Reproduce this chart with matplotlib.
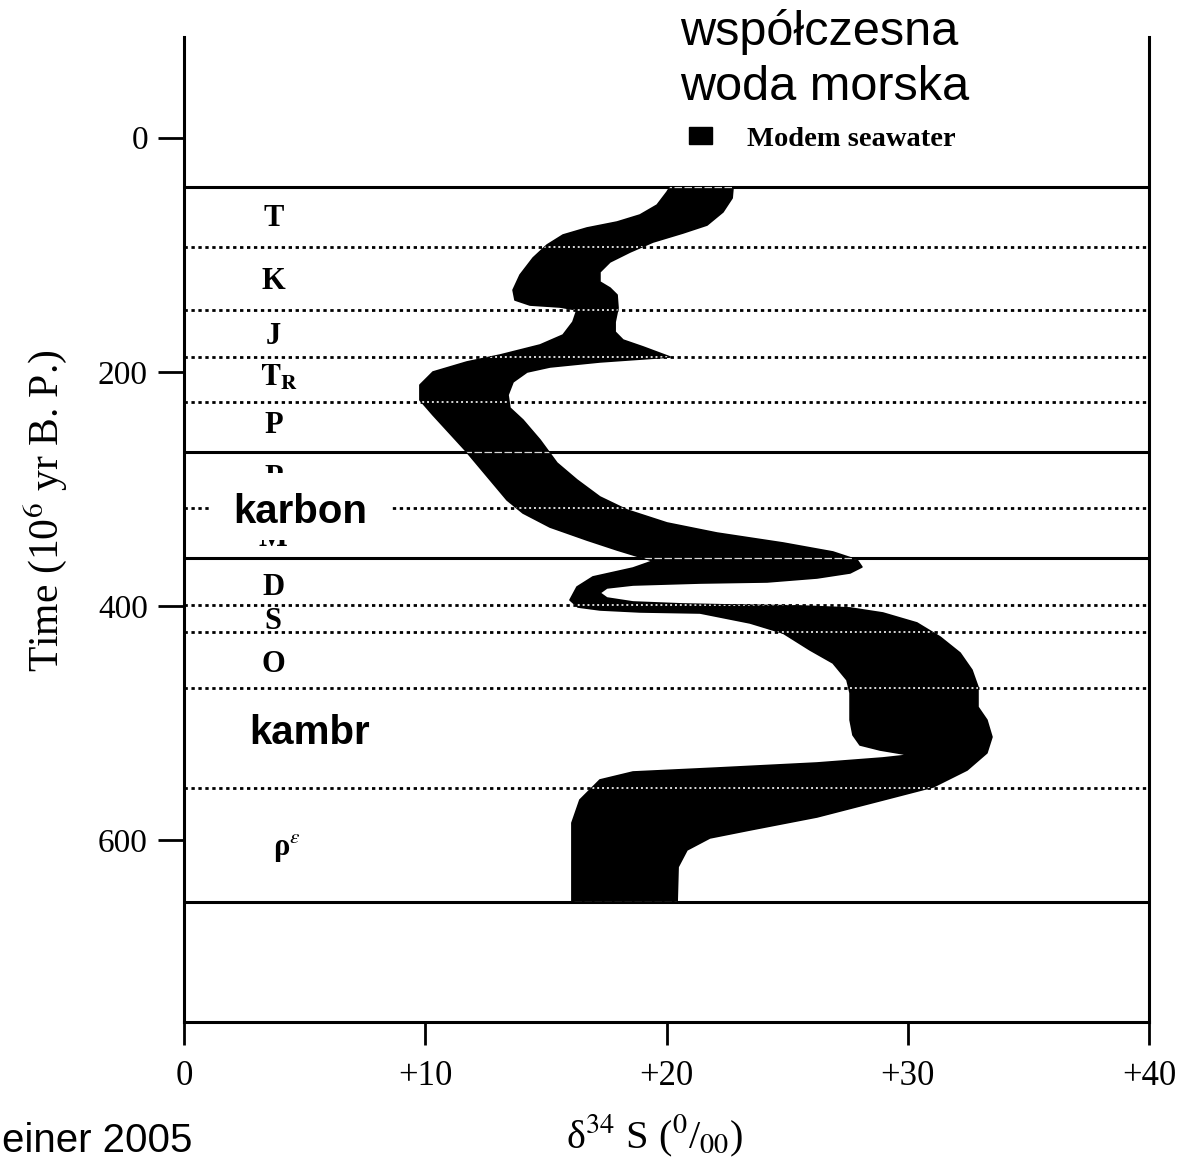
import matplotlib
matplotlib.use("Agg")
import matplotlib.pyplot as plt
from matplotlib.patches import Patch, Polygon, Rectangle

# ---------------- data ----------------
# right-hand outline of the seawater band (delta34S permil, age Myr), top -> bottom
band_right_x = [22.76, 22.72, 22.34, 21.68, 20.68, 19.44, 18.49, 17.66, 17.24, 17.24,
                17.66, 17.95, 17.99, 17.87, 17.87, 18.20, 19.03, 20.15, 17.24, 15.17,
                14.22, 13.64, 13.43, 13.51, 14.05, 14.76, 15.46, 16.29, 17.24, 18.36,
                20.02, 22.09, 24.83, 26.90, 27.90, 28.10, 27.61, 26.24, 24.17, 21.39,
                18.61, 17.53, 17.24, 17.53, 18.61, 20.68, 22.76, 25.53, 27.61, 28.97,
                30.38, 31.34, 32.17, 32.66, 32.91, 32.91, 33.28, 33.49, 33.28, 32.46,
                31.05, 28.97, 26.24, 23.46, 21.80, 20.85, 20.48, 20.44]
band_right_age = [42.0, 51.5, 63.4, 74.6, 81.4, 89.1, 97.6, 106.1, 114.7, 123.2,
                  128.4, 134.3, 145.4, 157.4, 165.9, 172.8, 178.7, 187.3, 191.5, 195.8,
                  200.1, 208.6, 219.7, 230.8, 241.1, 258.2, 277.8, 292.3, 306.8, 317.9,
                  329.0, 337.6, 346.1, 353.8, 360.6, 366.6, 371.7, 376.0, 379.4, 380.3,
                  382.0, 384.5, 388.8, 393.1, 396.5, 398.2, 399.1, 399.9, 401.6, 405.9,
                  414.4, 426.4, 440.1, 454.6, 469.1, 486.2, 497.3, 511.8, 525.4, 540.0,
                  554.5, 565.6, 580.1, 591.2, 598.0, 608.3, 622.8, 652.5]
# left-hand outline, bottom -> top
band_left_x = [16.08, 16.08, 16.41, 17.24, 18.61, 22.09, 26.24, 28.97, 30.09, 28.85,
               28.02, 27.73, 27.61, 27.61, 27.48, 26.90, 25.95, 24.83, 23.46, 21.39,
               18.90, 17.24, 16.33, 16.00, 16.29, 16.95, 18.61, 19.44, 18.90, 17.95,
               16.70, 15.17, 14.05, 13.39, 11.65, 10.32, 9.78, 9.78, 10.32, 11.73,
               13.10, 14.76, 15.71, 16.12, 16.29, 15.59, 14.34, 13.72, 13.64, 13.93,
               14.47, 15.05, 15.71, 16.70, 17.95, 18.90, 19.61, 20.02, 20.15]
band_left_age = [652.5, 585.2, 565.6, 548.5, 541.7, 538.3, 534.0, 529.7, 527.2, 522.9,
                 518.6, 510.1, 497.3, 474.2, 463.1, 448.6, 437.5, 423.0, 414.4, 405.9,
                 405.0, 403.3, 400.8, 394.8, 383.7, 375.1, 367.5, 361.5, 358.1, 352.1,
                 343.6, 332.5, 320.5, 309.4, 266.7, 236.8, 224.0, 211.2, 200.1, 191.5,
                 185.6, 177.0, 168.5, 157.4, 147.1, 144.6, 142.9, 138.6, 130.1, 117.2,
                 102.7, 91.6, 83.1, 77.1, 72.0, 66.0, 57.5, 46.4, 42.0]

boundary_ages = [42, 93, 147, 187, 226, 268, 316, 359, 399, 422, 470, 555, 652.5]
boundary_solid = [True, False, False, False, False, True, False, True, False, False,
                  False, False, True]

period_labels = ["T", "K", "J", r"$\mathbf{T}_{\mathbf{R}}$", "P", "P", "M", "D", "S", "O",
                 "ρ$^{\\epsilon}$"]
period_label_ages = [68.6, 123.2, 170.1, 205.0, 245.4, 291.0, 342.0, 384.5, 413.0, 450.2, 606.6]

x_ticks = [0, 10, 20, 30, 40]
x_tick_labels = ["0", "+10", "+20", "+30", "+40"]
y_ticks = [0, 200, 400, 600]
y_tick_labels = ["0", "200", "400", "600"]

# ---------------- figure ----------------
plt.rcParams["mathtext.fontset"] = "stix"
plt.rcParams["font.family"] = ["Liberation Serif", "DejaVu Serif"]

W, H = 1185, 1161
fig = plt.figure(figsize=(W / 100, H / 100), dpi=100)
ax = fig.add_axes([184 / W, 1 - 1022 / H, (1149 - 184) / W, (1022 - 37) / H])
ax.set_xlim(0, 40)
ax.set_ylim(755.2, -86.0)

# band
xs = band_right_x + band_left_x
ys = band_right_age + band_left_age
band = Polygon(list(zip(xs, ys)), closed=True, facecolor="black", edgecolor="black",
               lw=1.2, joinstyle="round", zorder=2)
ax.add_patch(band)

# period boundaries
for age, solid in zip(boundary_ages, boundary_solid):
    if solid:
        ax.axhline(age, color="black", lw=2.2, zorder=3)
        ln = ax.axhline(age, color="white", lw=0.9, ls=(0, (6, 2)), zorder=4, alpha=0.85)
    else:
        ax.axhline(age, color="black", lw=2.0, ls=(0, (1.2, 1.3)), zorder=3)
        ln = ax.axhline(age, color="white", lw=1.4, ls=(0, (1.0, 1.5)), zorder=4, alpha=0.85)
    ln.set_clip_path(band)

# period labels
for lab, age in zip(period_labels, period_label_ages):
    x = 3.7
    fs = 22
    if lab.startswith(r"$\mathbf{T}"):
        x = 3.95
    if lab.startswith("ρ"):
        x = 4.25
    ax.text(x, age, lab, ha="center", va="center", fontsize=fs, fontweight="bold",
            family="Liberation Serif", zorder=5)

# overlay boxes and labels
ax.add_patch(Rectangle((1.16, 286.3), 8.58 - 1.16, 343.6 - 286.3, facecolor="white",
                       edgecolor="none", zorder=6))
ax.text(4.81, 319.8, "karbon", ha="center", va="center", fontsize=29, fontweight="bold",
        family="Liberation Sans", zorder=7)
ax.add_patch(Rectangle((1.62, 477.6), 8.58 - 1.62, 537.4 - 477.6, facecolor="white",
                       edgecolor="none", zorder=6))
ax.text(5.22, 508.3, "kambr", ha="center", va="center", fontsize=29, fontweight="bold",
        family="Liberation Sans", zorder=7)

# spines & ticks
ax.spines["top"].set_visible(False)
for s in ("left", "right", "bottom"):
    ax.spines[s].set_linewidth(2.2)
ax.set_xticks(x_ticks)
ax.set_xticklabels(x_tick_labels, fontsize=25)
ax.set_yticks(y_ticks)
ax.set_yticklabels(y_tick_labels, fontsize=24)
ax.tick_params(axis="x", direction="out", length=16.5, width=2.0, pad=11)
ax.tick_params(axis="y", direction="out", length=19, width=2.0, pad=7)

ax.set_xlabel("δ$^{34}$ S ($^{0}$/$_{00}$)", fontsize=29)
ax.xaxis.label.set_va("center")
ax.xaxis.set_label_coords((655 - 184) / 965, (1022 - 1136) / 985)
ax.set_ylabel(r"Time (10$^{6}$ yr B. P.)", fontsize=30)
ax.yaxis.label.set_va("center")
ax.yaxis.set_label_coords((45 - 184) / 965, (1022 - 511) / 985)

# legend
leg = ax.legend(handles=[Patch(facecolor="black", edgecolor="black")],
                labels=["Modem seawater"], loc="center left",
                bbox_to_anchor=(689 / W, 1 - 139 / H), bbox_transform=fig.transFigure,
                frameon=False, borderpad=0, borderaxespad=0,
                handlelength=0.8, handleheight=0.55, handletextpad=1.25,
                prop={"family": "Liberation Serif", "weight": "bold", "size": 20.5})

# top annotation and source
fig.text(680 / W, 1 - 45 / H, "współczesna", ha="left", va="baseline", fontsize=35,
         family="Liberation Sans")
fig.text(680 / W, 1 - 100 / H, "woda morska", ha="left", va="baseline", fontsize=35,
         family="Liberation Sans")
fig.text(2 / W, 1 - 1152 / H, "einer 2005", ha="left", va="baseline", fontsize=29,
         family="Liberation Sans")

fig.savefig("out.png", dpi=100)
